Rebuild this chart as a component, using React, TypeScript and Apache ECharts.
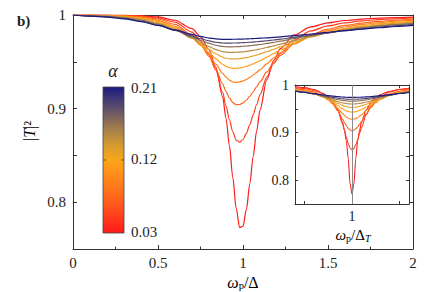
import React, { useEffect, useRef } from "react";
import * as echarts from "echarts";

const alphaValues = [0.03, 0.05, 0.07, 0.09, 0.11, 0.13, 0.15, 0.17, 0.19, 0.21];
const alphaColors = ["#ff1a1a", "#ff3d1c", "#ff601c", "#ff821c", "#ff9e1a", "#e5a228", "#b88a42", "#8c6e55", "#584a6c", "#1a1a80"];

const omegaMain = [0, 0.1, 0.2, 0.3, 0.4, 0.5, 0.6, 0.7, 0.75, 0.8, 0.84, 0.88, 0.9, 0.92, 0.94, 0.96, 0.98, 1.0, 1.02, 1.04, 1.06, 1.08, 1.1, 1.14, 1.18, 1.22, 1.3, 1.4, 1.5, 1.6, 1.7, 1.8, 1.9, 2.0];
const mainA03 = [1, 0.9999, 0.9998, 0.9996, 0.9992, 0.9979, 0.9944, 0.9855, 0.977, 0.9629, 0.9443, 0.9128, 0.8897, 0.8604, 0.8264, 0.7934, 0.773, 0.7743, 0.7923, 0.8197, 0.8491, 0.876, 0.8984, 0.9308, 0.9512, 0.9641, 0.9787, 0.9873, 0.9916, 0.9941, 0.9956, 0.9966, 0.9973, 0.9978];
const mainA05 = [1, 0.9999, 0.9997, 0.9995, 0.9988, 0.9969, 0.9923, 0.9818, 0.9724, 0.9581, 0.9411, 0.9173, 0.9029, 0.8883, 0.8752, 0.8664, 0.8641, 0.867, 0.8736, 0.8828, 0.8934, 0.9044, 0.915, 0.9337, 0.9482, 0.9591, 0.9733, 0.983, 0.9884, 0.9916, 0.9937, 0.9951, 0.996, 0.9968];
const mainA07 = [1, 0.9998, 0.9996, 0.9992, 0.9982, 0.9957, 0.99, 0.9784, 0.9689, 0.9559, 0.9422, 0.9263, 0.9184, 0.9115, 0.9064, 0.9041, 0.9044, 0.9062, 0.9092, 0.9132, 0.918, 0.9232, 0.9286, 0.9392, 0.9488, 0.9569, 0.9692, 0.979, 0.985, 0.9889, 0.9914, 0.9932, 0.9945, 0.9955];
const mainA09 = [1, 0.9997, 0.9994, 0.9988, 0.9974, 0.9943, 0.9879, 0.9764, 0.9679, 0.9573, 0.9475, 0.9377, 0.9336, 0.9304, 0.9284, 0.928, 0.9285, 0.9296, 0.9312, 0.9334, 0.9359, 0.9387, 0.9416, 0.9478, 0.9539, 0.9596, 0.969, 0.9775, 0.9833, 0.9872, 0.99, 0.9919, 0.9934, 0.9945];
const mainA11 = [1, 0.9996, 0.9992, 0.9985, 0.9967, 0.9931, 0.9863, 0.9755, 0.9683, 0.96, 0.9533, 0.9474, 0.9452, 0.9437, 0.943, 0.9431, 0.9435, 0.9442, 0.9451, 0.9464, 0.9478, 0.9494, 0.9511, 0.9549, 0.9588, 0.9626, 0.9696, 0.9766, 0.9818, 0.9856, 0.9885, 0.9906, 0.9922, 0.9935];
const mainA13 = [1, 0.9995, 0.999, 0.998, 0.9959, 0.9919, 0.9851, 0.9752, 0.9693, 0.9632, 0.9586, 0.955, 0.9538, 0.9532, 0.953, 0.9531, 0.9534, 0.9539, 0.9545, 0.9553, 0.9562, 0.9572, 0.9584, 0.9608, 0.9634, 0.966, 0.9712, 0.9768, 0.9813, 0.9848, 0.9875, 0.9896, 0.9913, 0.9926];
const mainA15 = [1, 0.9993, 0.9987, 0.9975, 0.9951, 0.9908, 0.9842, 0.9755, 0.9708, 0.9662, 0.9631, 0.9609, 0.9603, 0.96, 0.96, 0.9602, 0.9604, 0.9607, 0.9612, 0.9617, 0.9623, 0.9629, 0.9637, 0.9653, 0.9671, 0.9689, 0.9727, 0.9771, 0.9809, 0.984, 0.9866, 0.9887, 0.9903, 0.9917];
const mainA17 = [1, 0.9992, 0.9985, 0.997, 0.9944, 0.9901, 0.9839, 0.9767, 0.973, 0.9697, 0.9677, 0.9664, 0.9661, 0.966, 0.966, 0.9662, 0.9663, 0.9666, 0.9669, 0.9672, 0.9676, 0.9681, 0.9685, 0.9696, 0.9708, 0.9721, 0.9748, 0.9782, 0.9812, 0.9839, 0.9862, 0.9881, 0.9897, 0.991];
const mainA19 = [1, 0.9989, 0.998, 0.9963, 0.9935, 0.9891, 0.9836, 0.9775, 0.9747, 0.9723, 0.9709, 0.9701, 0.97, 0.97, 0.9701, 0.9701, 0.9703, 0.9704, 0.9706, 0.9709, 0.9711, 0.9714, 0.9718, 0.9725, 0.9733, 0.9742, 0.9761, 0.9786, 0.981, 0.9833, 0.9853, 0.987, 0.9886, 0.9899];
const mainA21 = [1, 0.9987, 0.9977, 0.9959, 0.993, 0.9889, 0.9841, 0.9792, 0.9771, 0.9754, 0.9745, 0.974, 0.974, 0.974, 0.9741, 0.9741, 0.9742, 0.9743, 0.9744, 0.9746, 0.9748, 0.975, 0.9752, 0.9756, 0.9761, 0.9767, 0.978, 0.9797, 0.9815, 0.9832, 0.9849, 0.9864, 0.9877, 0.9889];
const mainCurves = [mainA03, mainA05, mainA07, mainA09, mainA11, mainA13, mainA15, mainA17, mainA19, mainA21];

const omegaInset = [0.4, 0.5, 0.6, 0.7, 0.75, 0.8, 0.85, 0.9, 0.92, 0.94, 0.96, 0.98, 1.0, 1.02, 1.04, 1.06, 1.08, 1.1, 1.15, 1.2, 1.25, 1.3, 1.4, 1.5, 1.6];
const insetA03 = [0.997, 0.9945, 0.9905, 0.982, 0.974, 0.963, 0.948, 0.922, 0.905, 0.883, 0.846, 0.792, 0.771, 0.792, 0.846, 0.883, 0.905, 0.922, 0.948, 0.963, 0.973, 0.98, 0.987, 0.991, 0.993];
const insetA05 = [0.9948, 0.9926, 0.9888, 0.9812, 0.9745, 0.964, 0.9469, 0.9197, 0.9058, 0.8912, 0.8776, 0.8677, 0.864, 0.8668, 0.8745, 0.8856, 0.8982, 0.9108, 0.9377, 0.9561, 0.9682, 0.9762, 0.9855, 0.9904, 0.9932];
const insetA07 = [0.9929, 0.9901, 0.9853, 0.9767, 0.9697, 0.9597, 0.946, 0.9287, 0.9214, 0.9146, 0.909, 0.9053, 0.904, 0.905, 0.9078, 0.9122, 0.9177, 0.9238, 0.9395, 0.953, 0.9635, 0.9713, 0.9814, 0.9872, 0.9907];
const insetA09 = [0.9915, 0.9883, 0.9833, 0.9748, 0.9686, 0.9606, 0.9509, 0.9403, 0.9364, 0.933, 0.9303, 0.9286, 0.928, 0.9285, 0.9298, 0.9318, 0.9345, 0.9377, 0.9467, 0.9557, 0.9636, 0.9701, 0.9794, 0.9853, 0.9891];
const insetA11 = [0.9904, 0.9871, 0.9822, 0.9745, 0.9693, 0.9632, 0.9564, 0.9499, 0.9476, 0.9457, 0.9442, 0.9433, 0.943, 0.9432, 0.9439, 0.9451, 0.9466, 0.9484, 0.9538, 0.9598, 0.9655, 0.9706, 0.9786, 0.9842, 0.988];
const insetA13 = [0.9896, 0.9863, 0.9817, 0.975, 0.9708, 0.9662, 0.9615, 0.9572, 0.9558, 0.9546, 0.9537, 0.9532, 0.953, 0.9531, 0.9536, 0.9542, 0.9551, 0.9562, 0.9597, 0.9637, 0.9678, 0.9718, 0.9785, 0.9835, 0.9872];
const insetA15 = [0.9885, 0.9854, 0.981, 0.9754, 0.9721, 0.9687, 0.9654, 0.9626, 0.9617, 0.961, 0.9604, 0.9601, 0.96, 0.9601, 0.9603, 0.9607, 0.9613, 0.962, 0.9642, 0.9669, 0.9699, 0.9728, 0.9782, 0.9827, 0.9861];
const insetA17 = [0.9881, 0.9852, 0.9814, 0.9768, 0.9743, 0.9718, 0.9695, 0.9677, 0.9671, 0.9666, 0.9663, 0.9661, 0.966, 0.9661, 0.9662, 0.9665, 0.9668, 0.9673, 0.9688, 0.9706, 0.9727, 0.9748, 0.9791, 0.9828, 0.9859];
const insetA19 = [0.9871, 0.9844, 0.9812, 0.9775, 0.9756, 0.9739, 0.9723, 0.9711, 0.9707, 0.9704, 0.9702, 0.97, 0.97, 0.97, 0.9701, 0.9703, 0.9705, 0.9708, 0.9718, 0.973, 0.9744, 0.976, 0.9792, 0.9823, 0.985];
const insetA21 = [0.987, 0.9847, 0.982, 0.9792, 0.9778, 0.9766, 0.9755, 0.9747, 0.9745, 0.9743, 0.9741, 0.974, 0.974, 0.974, 0.9741, 0.9742, 0.9743, 0.9745, 0.975, 0.9757, 0.9766, 0.9776, 0.9798, 0.982, 0.9841];
const insetCurves = [insetA03, insetA05, insetA07, insetA09, insetA11, insetA13, insetA15, insetA17, insetA19, insetA21];

const mainYTicks = [0.8, 0.85, 0.9, 0.95, 1];
const mainYLabels = [0.8, 0.9, 1];
const insetXTicks = [0.5, 1, 1.5];
const insetXLabels = [1];
const insetYTicks = [0.8, 0.85, 0.9, 0.95];
const insetYLabels = [0.8, 0.9, 1];
const colorbarLabels = ["0.21", "0.12", "0.03"];

const FONT = "Liberation Serif";
const INK = "#222";
const AXIS = "#333";

export default function App() {
  const ref = useRef<HTMLDivElement>(null);
  useEffect(() => {
    document.body.style.margin = "0";
    const chart = echarts.init(ref.current!, null, { renderer: "svg" });
    const lineStyle = { color: AXIS, width: 1 };
    const fmt = (v: number) => String(Math.round(v * 100) / 100);

    const mainX = (pos: "bottom" | "top") => ({
      gridIndex: 0, type: "value", min: 0, max: 2, interval: 0.5, position: pos,
      axisLine: { show: true, onZero: false, lineStyle },
      axisTick: { show: true, inside: true, length: 4, lineStyle },
      minorTick: { show: true, splitNumber: 2, length: 2.5, lineStyle },
      axisLabel: { show: pos === "bottom", margin: 6, fontFamily: FONT, fontSize: 15, color: INK, formatter: fmt },
      splitLine: { show: false },
    });
    const mainY = (pos: "left" | "right") => ({
      gridIndex: 0, type: "value", min: 0.75, max: 1, position: pos,
      axisLine: { show: true, onZero: false, lineStyle },
      axisTick: { show: true, inside: true, length: 4, lineStyle, customValues: mainYTicks },
      axisLabel: { show: pos === "left", margin: 7, fontFamily: FONT, fontSize: 15, color: INK, customValues: mainYLabels, formatter: fmt },
      splitLine: { show: false },
    });
    const insetX = (pos: "bottom" | "top") => ({
      gridIndex: 1, type: "value", min: 0.4, max: 1.6, position: pos,
      axisLine: { show: true, onZero: false, lineStyle },
      axisTick: { show: true, inside: true, length: 3, lineStyle, customValues: insetXTicks },
      axisLabel: { show: pos === "bottom", margin: 5, fontFamily: FONT, fontSize: 14, color: INK, customValues: insetXLabels, formatter: fmt },
      splitLine: { show: false },
    });
    const insetY = (pos: "left" | "right") => ({
      gridIndex: 1, type: "value", min: 0.75, max: 1, position: pos,
      axisLine: { show: true, onZero: false, lineStyle },
      axisTick: { show: true, inside: true, length: 3, lineStyle, customValues: insetYTicks },
      axisLabel: { show: pos === "left", margin: 6, fontFamily: FONT, fontSize: 14, color: INK, customValues: insetYLabels, formatter: fmt },
      splitLine: { show: false },
    });

    const mainSeries = mainCurves.map((ys, k) => ({
      name: "main " + alphaValues[k],
      type: "line", xAxisIndex: 0, yAxisIndex: 0,
      data: omegaMain.map((x, i) => [x, ys[i]]),
      showSymbol: false, smooth: 0.3, smoothMonotone: "x",
      lineStyle: { color: alphaColors[k], width: 1.2 },
      z: 3,
    }));
    const insetSeries = insetCurves.map((ys, k) => ({
      name: "inset " + alphaValues[k],
      type: "line", xAxisIndex: 2, yAxisIndex: 2,
      data: omegaInset.map((x, i) => [x, ys[i]]),
      showSymbol: false, smooth: 0.3, smoothMonotone: "x",
      lineStyle: { color: alphaColors[k], width: 1.1 },
      z: 3,
    }));
    const guide = {
      name: "guide", type: "line", xAxisIndex: 2, yAxisIndex: 2, data: [], z: 2,
      markLine: {
        silent: true, symbol: ["none", "none"], label: { show: false },
        lineStyle: { color: "#8a8a8a", width: 1, type: "solid" },
        data: [{ xAxis: 1 }],
      },
    };

    const gradient = new echarts.graphic.LinearGradient(0, 1, 0, 0, [
      { offset: 0, color: "#ff1a1a" },
      { offset: 0.22, color: "#ff601c" },
      { offset: 0.45, color: "#ff9a1a" },
      { offset: 0.5, color: "#f8a61a" },
      { offset: 0.6, color: "#d69a30" },
      { offset: 0.72, color: "#a07c4c" },
      { offset: 0.85, color: "#62506a" },
      { offset: 1, color: "#1a1a80" },
    ]);
    const txt = (x: number, y: number, text: string, size: number, align = "left", extra: any = {}) => ({
      type: "text", x, y,
      style: { text, fontFamily: FONT, fontSize: size, fill: INK, textAlign: align, textVerticalAlign: "middle", align, verticalAlign: "middle", ...extra },
    });

    const option: any = {
      animation: false,
      backgroundColor: "#fff",
      textStyle: { fontFamily: FONT },
      grid: [
        { left: 73, top: 15, width: 340, height: 234 },
        { left: 295, top: 85, width: 114, height: 119, show: true, backgroundColor: "#fff", borderWidth: 0 },
      ],
      xAxis: [mainX("bottom"), mainX("top"), insetX("bottom"), insetX("top")],
      yAxis: [mainY("left"), mainY("right"), insetY("left"), insetY("right")],
      series: [...mainSeries, guide, ...insetSeries],
      graphic: [
        { type: "rect", shape: { x: 103, y: 87, width: 21, height: 146 }, style: { fill: gradient, stroke: "#444", lineWidth: 0.8 } },
        { type: "line", shape: { x1: 103, y1: 160, x2: 106, y2: 160 }, style: { stroke: "#444", lineWidth: 0.8 } },
        { type: "line", shape: { x1: 121, y1: 160, x2: 124, y2: 160 }, style: { stroke: "#444", lineWidth: 0.8 } },
        txt(131, 88, colorbarLabels[0], 15),
        txt(131, 159, colorbarLabels[1], 15),
        txt(131, 232, colorbarLabels[2], 15),
        txt(113, 71, "α", 18, "center", { fontStyle: "italic" }),
        txt(17, 21, "b)", 15, "left", { fontWeight: "bold" }),
        {
          type: "text", x: 29, y: 131, rotation: Math.PI / 2,
          style: {
            text: "{n||}{t|T}{n||²}", textAlign: "center", textVerticalAlign: "middle", align: "center", verticalAlign: "middle",
            rich: {
              n: { fontFamily: FONT, fontSize: 16, color: INK },
              t: { fontFamily: FONT, fontSize: 16, fontStyle: "italic", color: INK },
            },
          },
        },
        {
          type: "text", x: 243, y: 282,
          style: {
            text: "{w|ω}{p|p}{d|/Δ}", textAlign: "center", textVerticalAlign: "middle", align: "center", verticalAlign: "middle",
            rich: {
              w: { fontFamily: FONT, fontSize: 16, fontStyle: "italic", color: INK, lineHeight: 18 },
              p: { fontFamily: FONT, fontSize: 10.5, color: INK, lineHeight: 10, verticalAlign: "bottom" },
              d: { fontFamily: FONT, fontSize: 16, color: INK, lineHeight: 18 },
            },
          },
        },
        {
          type: "text", x: 353, y: 235,
          style: {
            text: "{w|ω}{p|p}{d|/Δ}{s|T}", textAlign: "center", textVerticalAlign: "middle", align: "center", verticalAlign: "middle",
            rich: {
              w: { fontFamily: FONT, fontSize: 15, fontStyle: "italic", color: INK, lineHeight: 17 },
              p: { fontFamily: FONT, fontSize: 10, color: INK, lineHeight: 9, verticalAlign: "bottom" },
              d: { fontFamily: FONT, fontSize: 15, color: INK, lineHeight: 17 },
              s: { fontFamily: FONT, fontSize: 10, fontStyle: "italic", color: INK, lineHeight: 9, verticalAlign: "bottom" },
            },
          },
        },
      ],
    };
    chart.setOption(option);
    return () => chart.dispose();
  }, []);
  return <div ref={ref} style={{ width: 437, height: 292 }} />;
}
